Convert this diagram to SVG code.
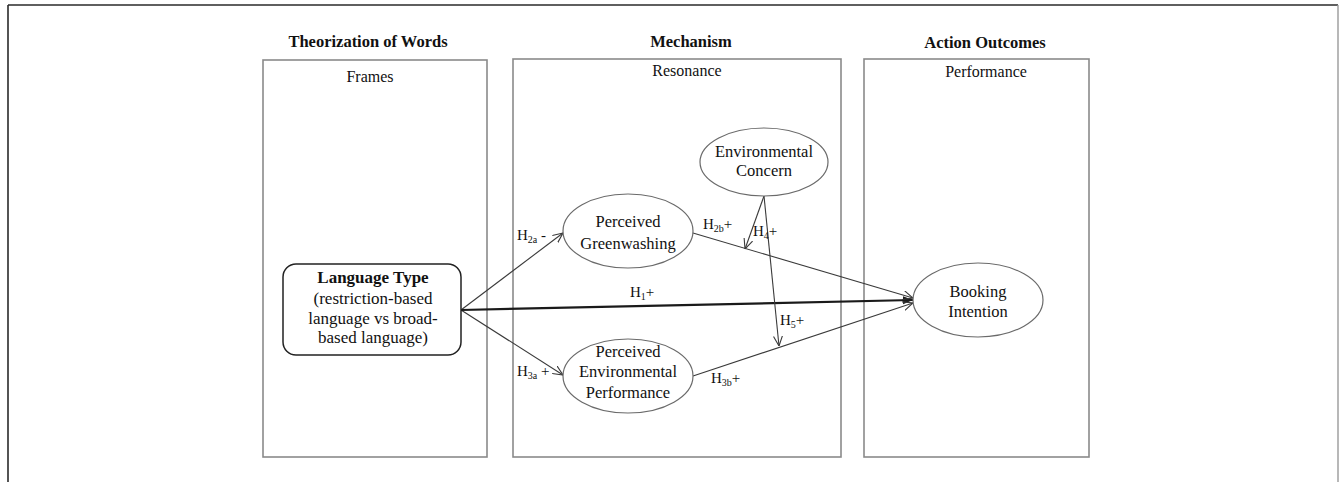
<svg xmlns="http://www.w3.org/2000/svg" width="1343" height="482" viewBox="0 0 1343 482">
<defs>
<style>
text{font-family:"Liberation Serif","Times New Roman",serif;fill:#111;}
.title{font-size:16.5px;font-weight:bold;text-anchor:middle;}
.sub{font-size:16px;text-anchor:middle;}
.node{font-size:16.5px;text-anchor:middle;}
.lang{font-size:17px;text-anchor:middle;}
.lbl{font-size:15px;}
.panel{fill:none;stroke:#8a8a8a;stroke-width:1.6;}
.ell{fill:#fff;stroke:#6a6a6a;stroke-width:1.2;}
.conn{stroke:#3a3a3a;stroke-width:1.1;fill:none;}
.thick{stroke:#1a1a1a;stroke-width:2.2;fill:none;}
</style>
<marker id="open" viewBox="0 0 10 10" refX="10" refY="5" markerWidth="10" markerHeight="10" markerUnits="userSpaceOnUse" orient="auto">
<path d="M0,0.5 L10,5 L0,9.5" fill="none" stroke="#3a3a3a" stroke-width="1.1"/>
</marker>
<marker id="filled" viewBox="0 0 10 10" refX="10" refY="5" markerWidth="10" markerHeight="10" markerUnits="userSpaceOnUse" orient="auto">
<path d="M0,1 L10,5 L0,9 Z" fill="#1a1a1a"/>
</marker>
</defs>
<rect width="1343" height="482" fill="#fff"/>
<g id="frame">
<line x1="8" y1="5" x2="1338" y2="5" stroke="#2a2a2a" stroke-width="1.6"/>
<line x1="8" y1="5" x2="8" y2="482" stroke="#2a2a2a" stroke-width="1.6"/>
<line x1="1338" y1="5" x2="1338" y2="482" stroke="#9a9a9a" stroke-width="1.4"/>
</g>
<g id="panel-words">
<text class="title" x="368" y="47">Theorization  of Words</text>
<rect class="panel" x="263" y="60" width="224" height="397"/>
<text class="sub" x="370" y="82">Frames</text>
</g>
<g id="panel-mechanism">
<text class="title" x="691" y="47">Mechanism</text>
<rect class="panel" x="513" y="59" width="328" height="398"/>
<text class="sub" x="687" y="76">Resonance</text>
</g>
<g id="panel-outcomes">
<text class="title" x="985" y="48">Action Outcomes</text>
<rect class="panel" x="864" y="59" width="225" height="398"/>
<text class="sub" x="986" y="77">Performance</text>
</g>
<g id="connectors">
<line class="conn" x1="461" y1="310" x2="563" y2="233" marker-end="url(#open)"/>
<line class="conn" x1="461" y1="310" x2="563" y2="375" marker-end="url(#open)"/>
<line class="thick" x1="461" y1="310" x2="913" y2="300" marker-end="url(#filled)"/>
<line class="conn" x1="693" y1="233" x2="913" y2="298" marker-end="url(#open)"/>
<line class="conn" x1="693" y1="376" x2="913" y2="303" marker-end="url(#open)"/>
<line class="conn" x1="764" y1="196" x2="745" y2="249" marker-end="url(#open)"/>
<line class="conn" x1="764" y1="196" x2="779" y2="346" marker-end="url(#open)"/>
<text class="lbl" x="517" y="240">H<tspan font-size="10" dy="3">2a</tspan><tspan dy="-3"> -</tspan></text>
<text class="lbl" x="703" y="229">H<tspan font-size="10" dy="3">2b</tspan><tspan dy="-3">+</tspan></text>
<text class="lbl" x="753" y="236">H<tspan font-size="10" dy="3">4</tspan><tspan dy="-3">+</tspan></text>
<text class="lbl" x="630" y="297">H<tspan font-size="10" dy="3">1</tspan><tspan dy="-3">+</tspan></text>
<text class="lbl" x="780" y="325">H<tspan font-size="10" dy="3">5</tspan><tspan dy="-3">+</tspan></text>
<text class="lbl" x="517" y="376">H<tspan font-size="10" dy="3">3a</tspan><tspan dy="-3"> +</tspan></text>
<text class="lbl" x="711" y="383">H<tspan font-size="10" dy="3">3b</tspan><tspan dy="-3">+</tspan></text>
</g>
<g id="language-type">
<rect x="283" y="264" width="178" height="91" rx="13" fill="#fff" stroke="#222" stroke-width="1.5"/>
<text class="lang" x="373" y="283" font-weight="bold">Language Type</text>
<text class="lang" x="373" y="304">(restriction-based</text>
<text class="lang" x="373" y="324">language  vs broad-</text>
<text class="lang" x="373" y="343">based  language)</text>
</g>
<g id="perceived-greenwashing">
<ellipse class="ell" cx="628" cy="231" rx="65" ry="37"/>
<text class="node" x="628" y="227">Perceived</text>
<text class="node" x="628" y="249">Greenwashing</text>
</g>
<g id="environmental-concern">
<ellipse class="ell" cx="764" cy="162" rx="64" ry="34"/>
<text class="node" x="764" y="157">Environmental</text>
<text class="node" x="764" y="176">Concern</text>
</g>
<g id="perceived-environmental-performance">
<ellipse class="ell" cx="628" cy="376" rx="65" ry="37"/>
<text class="node" x="628" y="357">Perceived</text>
<text class="node" x="628" y="377">Environmental</text>
<text class="node" x="628" y="398">Performance</text>
</g>
<g id="booking-intention">
<ellipse class="ell" cx="978" cy="300" rx="65" ry="37"/>
<text class="node" x="978" y="297">Booking</text>
<text class="node" x="978" y="317">Intention</text>
</g>
</svg>
